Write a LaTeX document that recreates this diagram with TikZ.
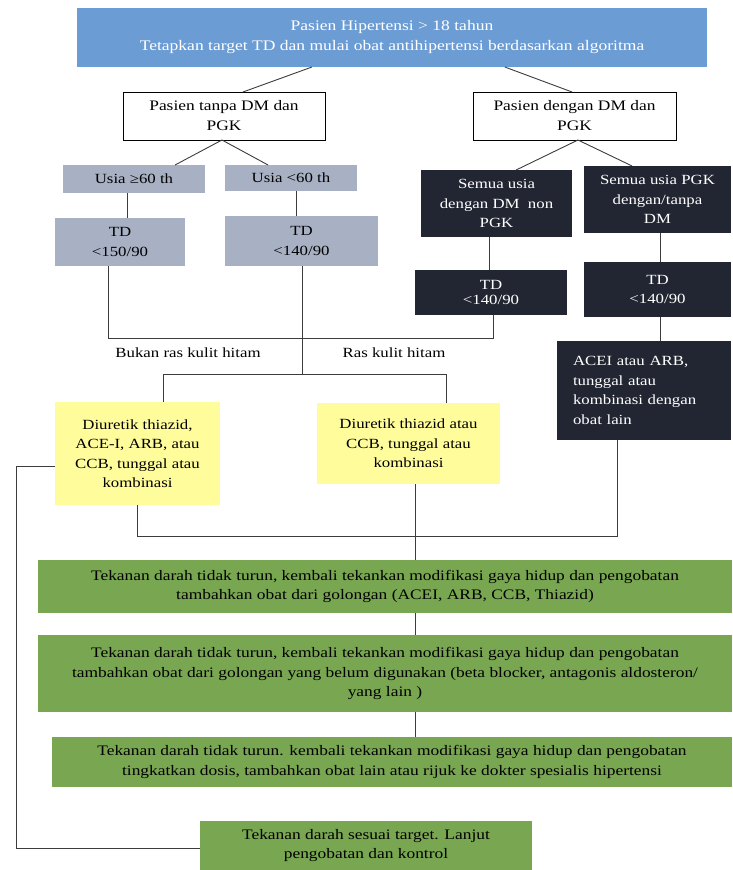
\documentclass[tikz,border=0pt]{standalone}
\usepackage{fontspec}
\setmainfont[FakeStretch=1.2]{Liberation Serif}
\usetikzlibrary{calc}
\definecolor{topblue}{HTML}{6C9CD4}
\definecolor{boxgray}{HTML}{A8B1C4}
\definecolor{boxdark}{HTML}{222632}
\definecolor{boxyellow}{HTML}{FFFC9C}
\definecolor{boxgreen}{HTML}{78A651}
\definecolor{linecol}{HTML}{3C3C3C}
\tikzset{
  bx/.style={rectangle, inner sep=0pt, outer sep=0pt, anchor=north west, align=center,
    font=\fontsize{14}{19.5}\selectfont},
  topbox/.style={bx, fill=topblue, text=white, font=\fontsize{14.6}{20}\selectfont},
  whitebox/.style={bx, draw=black, line width=0.8pt, fill=white, text=black, font=\fontsize{14.5}{20}\selectfont},
  graybox/.style={bx, fill=boxgray, text=black},
  darkbox/.style={bx, fill=boxdark, text=white},
  yellowbox/.style={bx, fill=boxyellow, text=black},
  greenbox/.style={bx, fill=boxgreen, text=black, font=\fontsize{14.5}{19.5}\selectfont},
  lbl/.style={inner sep=0pt, font=\fontsize{14}{19.5}\selectfont},
  conn/.style={draw=linecol, line width=0.9pt},
}
\begin{document}
\begin{tikzpicture}[x=1pt, y=-1pt]
\useasboundingbox (0,0) rectangle (732,870);
% boxes
\node[topbox, minimum width=630pt, minimum height=59pt] (top) at (77,8)
  {Pasien Hipertensi > 18 tahun\\Tetapkan target TD dan mulai obat antihipertensi berdasarkan algoritma};
\node[whitebox, minimum width=202pt, minimum height=48pt] (lb) at (123,92) {Pasien tanpa DM dan\\PGK};
\node[whitebox, minimum width=203pt, minimum height=48pt] (rb) at (473,92) {Pasien dengan DM dan\\PGK};
\node[graybox, minimum width=142pt, minimum height=28pt] (u1) at (63,165) {Usia ≥60 th};
\node[graybox, minimum width=132pt, minimum height=26pt] (u2) at (225,165) {Usia <60 th};
\node[graybox, minimum width=130pt, minimum height=48pt] (td1) at (55,218) {TD\\<150/90};
\node[graybox, minimum width=153pt, minimum height=50pt] (td2) at (225,216) {TD\\<140/90};
\node[darkbox, minimum width=151pt, minimum height=67pt] (s1) at (421,170) {Semua usia\\dengan DM~~non\\PGK};
\node[darkbox, minimum width=147pt, minimum height=67pt] (s2) at (584,166) {Semua usia PGK\\dengan/tanpa\\DM};
\node[darkbox, minimum width=152pt, minimum height=45pt] (td3) at (415,270) {\raisebox{-5pt}{\shortstack{TD\\[2pt]<140/90}}};
\node[darkbox, minimum width=147pt, minimum height=55pt] (td4) at (584,262) {TD\\<140/90};
\node[darkbox, minimum width=174pt, minimum height=99pt, align=left, text width=164pt] (acei) at (557,341)
  {\hspace*{11pt}ACEI atau ARB,\\\hspace*{11pt}tunggal atau\\\hspace*{11pt}kombinasi dengan\\\hspace*{11pt}obat lain};
\node[yellowbox, minimum width=165pt, minimum height=103pt] (y1) at (55,402)
  {Diuretik thiazid,\\ACE-I, ARB, atau\\CCB, tunggal atau\\kombinasi};
\node[yellowbox, minimum width=183pt, minimum height=81pt] (y2) at (317,403)
  {Diuretik thiazid atau\\CCB, tunggal atau\\kombinasi};
\node[greenbox, minimum width=694pt, minimum height=53pt] (g1) at (38,560)
  {Tekanan darah tidak turun, kembali tekankan modifikasi gaya hidup dan pengobatan\\tambahkan obat dari golongan (ACEI, ARB, CCB, Thiazid)};
\node[greenbox, minimum width=694pt, minimum height=77pt] (g2) at (38,635)
  {Tekanan darah tidak turun, kembali tekankan modifikasi gaya hidup dan pengobatan\\tambahkan obat dari golongan yang belum digunakan (beta blocker, antagonis aldosteron/\\yang lain )};
\node[greenbox, minimum width=680pt, minimum height=50pt] (g3) at (52,737)
  {Tekanan darah tidak turun. kembali tekankan modifikasi gaya hidup dan pengobatan\\tingkatkan dosis, tambahkan obat lain atau rijuk ke dokter spesialis hipertensi};
\node[greenbox, minimum width=332pt, minimum height=49pt] (g4) at (200,821)
  {Tekanan darah sesuai target. Lanjut\\pengobatan dan kontrol};
% labels
\node[lbl] (lab1) at (188,353) {Bukan ras kulit hitam};
\node[lbl] (lab2) at (394,353) {Ras kulit hitam};
% helper coordinates
\coordinate (xa) at (127,0);
\coordinate (xb) at (296,0);
\coordinate (xc) at (489,0);
\coordinate (xd) at (660,0);
\coordinate (xe) at (108,0);
\coordinate (xf) at (493,0);
\coordinate (xg) at (302,0);
\coordinate (xh) at (163,0);
\coordinate (xi) at (446,0);
\coordinate (xj) at (137,0);
\coordinate (xk) at (617,0);
\coordinate (xm) at (415,0);
\coordinate (ya) at (0,338);
\coordinate (yb) at (0,374);
\coordinate (yc) at (0,536);
\coordinate (fb1) at (16,466);
\coordinate (fb2) at (16,848);
% connectors
\draw[conn] ($(top.south west)!0.373!(top.south east)$) -- ($(lb.north west)!0.594!(lb.north east)$);
\draw[conn] ($(top.south west)!0.679!(top.south east)$) -- ($(rb.north west)!0.488!(rb.north east)$);
\draw[conn] ($(lb.south west)!0.49!(lb.south east)$) -- ($(u1.north west)!0.789!(u1.north east)$);
\draw[conn] ($(lb.south west)!0.49!(lb.south east)$) -- ($(u2.north west)!0.326!(u2.north east)$);
\draw[conn] ($(rb.south west)!0.517!(rb.south east)$) -- ($(s1.north west)!0.63!(s1.north east)$);
\draw[conn] ($(rb.south west)!0.517!(rb.south east)$) -- ($(s2.north west)!0.327!(s2.north east)$);
\draw[conn] (u1.south -| xa) -- (td1.north -| xa);
\draw[conn] (u2.south -| xb) -- (td2.north -| xb);
\draw[conn] (s1.south -| xc) -- (td3.north -| xc);
\draw[conn] (s2.south -| xd) -- (td4.north -| xd);
\draw[conn] (td4.south -| xd) -- (acei.north -| xd);
\draw[conn] (td1.south -| xe) -- (ya -| xe) -- (ya -| xf) -- (td3.south -| xf);
\draw[conn] (td2.south -| xg) -- (yb -| xg);
\draw[conn] (y1.north -| xh) -- (yb -| xh) -- (yb -| xi) -- (y2.north -| xi);
\draw[conn] (y1.south -| xj) -- (yc -| xj) -- (yc -| xk) -- (acei.south -| xk);
\draw[conn] (y2.south -| xm) -- (g1.north -| xm);
\draw[conn] (g1.south -| xm) -- (g2.north -| xm);
\draw[conn] (g2.south -| xm) -- (g3.north -| xm);
\draw[conn] (y1.west |- fb1) -- (fb1) -- (fb2) -- (g4.west |- fb2);
\end{tikzpicture}
\end{document}
